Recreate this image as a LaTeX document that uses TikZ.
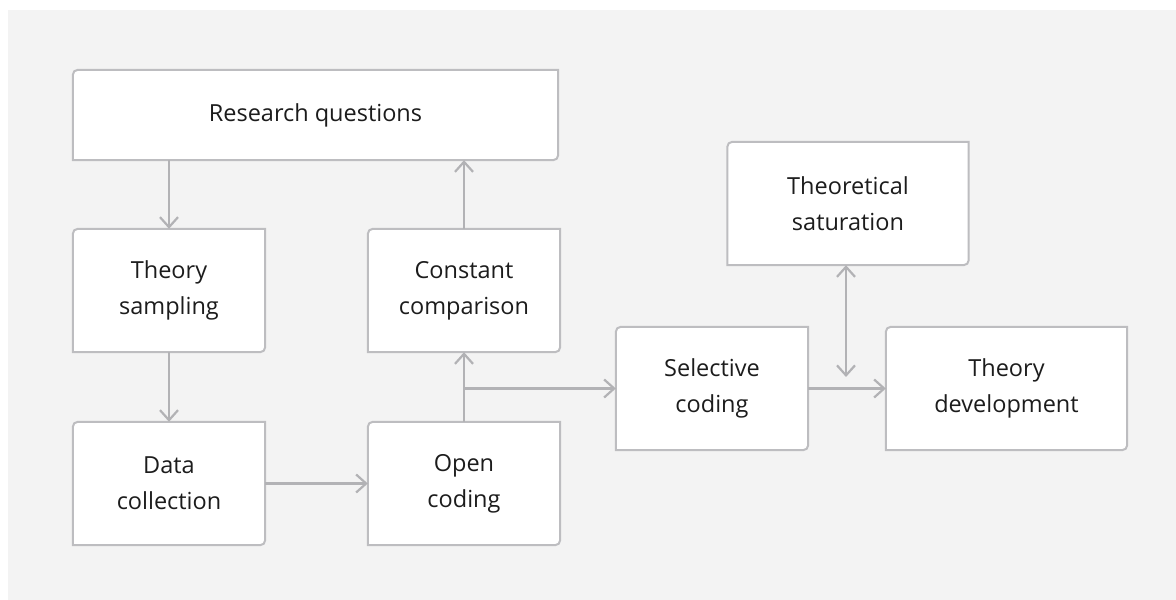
\documentclass[tikz,border=0pt]{standalone}
\usepackage{fontspec}
\setmainfont{Open Sans}
\usetikzlibrary{arrows.meta,calc}
\definecolor{panel}{HTML}{F3F3F3}
\definecolor{edge}{HTML}{BDBDC0}
\definecolor{flow}{HTML}{B2B2B5}
\definecolor{ink}{HTML}{1C1C1C}
\pgfdeclarelayer{bg}
\pgfdeclarelayer{boxes}
\pgfsetlayers{bg,boxes,main}
% box outline: top-left and bottom-right corners rounded, the others square
\newcommand{\leafbox}[1]{%
  \begin{pgfonlayer}{boxes}
    \draw[edge,line width=2pt,fill=white]
      (#1.south west) -- ([yshift=-5pt]#1.north west)
      arc[start angle=180,end angle=90,radius=5pt]
      -- (#1.north east) -- ([yshift=5pt]#1.south east)
      arc[start angle=0,end angle=-90,radius=5pt]
      -- cycle;
  \end{pgfonlayer}}
\tikzset{
  stage/.style={inner sep=0pt, align=center, text=ink,
    font=\fontsize{23.5pt}{36pt}\selectfont},
  flowline/.style={flow, line width=2.2pt,
    -{Straight Barb[length=10pt,width=18pt,line width=2.2pt]}},
  twoway/.style={flow, line width=2.2pt,
    {Straight Barb[length=10pt,width=18pt,line width=2.2pt]}-{Straight Barb[length=10pt,width=18pt,line width=2.2pt]}},
}
\begin{document}
\begin{tikzpicture}[x=1pt,y=1pt]
\useasboundingbox (0,0) rectangle (1176,600);
\begin{pgfonlayer}{bg}
  \fill[white] (0,0) rectangle (1176,600);
  \fill[panel] (8,0) rectangle (1176,590);
\end{pgfonlayer}

\node[stage, minimum width=485pt, minimum height=90pt] (rq) at (315.5,485) {Research questions};
\node[stage, minimum width=192pt, minimum height=123pt] (ts) at (169,309.5) {Theory\\sampling};
\node[stage, minimum width=192pt, minimum height=123pt] (dc) at (169,116.5) {Data\\collection};
\node[stage, minimum width=192pt, minimum height=123pt] (cc) at (464,309.5) {Constant\\comparison};
\node[stage, minimum width=192pt, minimum height=123pt] (oc) at (464,116.5) {Open\\coding};
\node[stage, minimum width=192pt, minimum height=123pt] (sc) at (712,211.5) {Selective\\coding};
\node[stage, minimum width=241pt, minimum height=123pt] (sat) at (848,396.5) {Theoretical\\saturation};
\node[stage, minimum width=241pt, minimum height=123pt] (td) at (1006.5,211.5) {Theory\\development};

\leafbox{rq}\leafbox{ts}\leafbox{dc}\leafbox{cc}
\leafbox{oc}\leafbox{sc}\leafbox{sat}\leafbox{td}

\coordinate (branch) at (oc.north |- sc.west);
\coordinate (satend) at (846,223);

\draw[flowline] (ts.north |- rq.south) -- (ts.north);
\draw[flowline] (ts.south) -- (dc.north);
\draw[flowline] (dc.east) -- (oc.west);
\draw[flowline] (oc.north) -- (cc.south);
\draw[flowline] (cc.north) -- (cc.north |- rq.south);
\draw[flowline] (branch) -- (sc.west);
\draw[flowline] (sc.east) -- (td.west);
\draw[twoway] (satend |- sat.south) -- (satend);
\end{tikzpicture}
\end{document}
